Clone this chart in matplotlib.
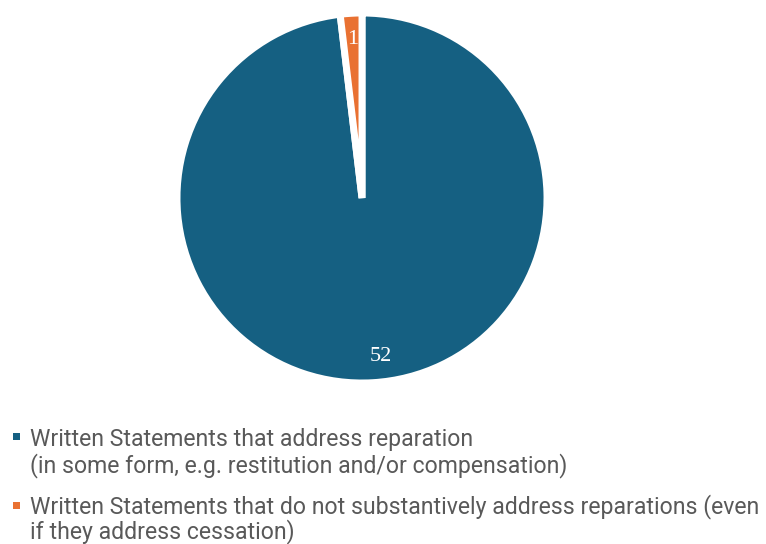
import matplotlib.pyplot as plt
from matplotlib.patches import Rectangle

counts = [52, 1]
legend_lines = [["Written Statements that address reparation",
                 "(in some form, e.g. restitution and/or compensation)"],
                ["Written Statements that do not substantively address reparations (even",
                 "if they address cessation)"]]
colors = ["#156082", "#E97132"]

W, H = 766, 544
fig = plt.figure(figsize=(W / 100, H / 100), dpi=100)
ax = fig.add_axes([(362 - 185) / W, (H - 198 - 185) / H, 370 / W, 370 / H])

wedges, texts = ax.pie(counts, colors=colors, startangle=90, counterclock=False,
                       labels=[str(c) for c in counts], labeldistance=0.86,
                       wedgeprops=dict(edgecolor="white", linewidth=5))
for t in texts:
    t.set_color("white")
    t.set_fontfamily("Liberation Serif")
    t.set_fontsize(16)
    t.set_ha("center")
    t.set_va("center")
texts[0].set_x(texts[0].get_position()[0] + 0.05)
ax.set_xlim(-1, 1)
ax.set_ylim(-1, 1)
ax.set_aspect("equal")

# legend, laid out by hand so the square sits on the first line
baselines = [[446, 472], [513, 538]]
squares_y = [436, 505]
for color, lines, ys, sy in zip(colors, legend_lines, baselines, squares_y):
    fig.patches.append(Rectangle(((16.5 - 3.5) / W, 1 - (sy + 3.5) / H), 7 / W, 7 / H,
                                 transform=fig.transFigure, facecolor=color, edgecolor="none"))
    for line, y in zip(lines, ys):
        fig.text(30 / W, 1 - y / H, line, ha="left", va="baseline", color="#595959",
                 family="Roboto", fontsize=16.6)

fig.savefig("out.png", dpi=100)
